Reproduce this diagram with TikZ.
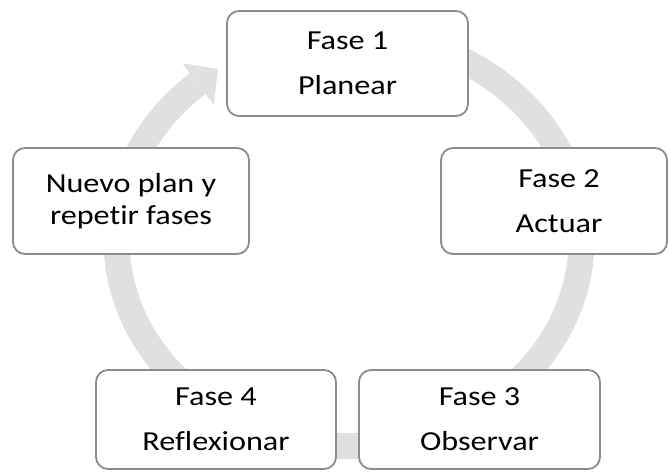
\documentclass[tikz,border=0pt]{standalone}
\usepackage{fontspec}
\setmainfont[Ligatures=NoCommon]{Carlito}
\usepackage{graphicx}
% labels are set slightly wide
\newcommand{\wide}[1]{\scalebox{1.17}[1]{#1}}
\definecolor{ringgray}{RGB}{224,224,224}
\definecolor{edgegray}{RGB}{140,140,140}
\begin{document}
\begin{tikzpicture}[x=1pt,y=-1pt,
  stagebox/.style={draw=edgegray, line width=1.8pt, rounded corners=12pt,
    fill=white, inner sep=0pt, align=center, text=black,
    font=\fontsize{27.5}{45}\selectfont},
  wrapbox/.style={stagebox, font=\fontsize{27.5}{32.5}\selectfont}]
\fill[white] (0,0) rectangle (669,471);
\useasboundingbox (0,0) rectangle (669,471);

% circular arrow running clockwise behind the stages
\draw[ringgray, line width=26pt, line cap=butt]
  plot[domain=-80:229.4, samples=240, variable=\t]
  ({349+232.5*cos(\t)},{240+206*sin(\t)});
\fill[ringgray] (182.3,63.3) -- (218,69) -- (213.7,104.7) -- cycle;

% stages
\node[stagebox, minimum width=241pt, minimum height=105pt] (plan) at (347.5,63.5)
  {\wide{Fase 1}\\\wide{Planear}};
\node[stagebox, minimum width=226pt, minimum height=106pt] (act) at (554,201)
  {\hspace*{10pt}\wide{Fase 2}\\\hspace*{10pt}\wide{Actuar}};
\node[stagebox, minimum width=241pt, minimum height=99pt] (obs) at (479.5,419.5)
  {\wide{Fase 3}\\\wide{Observar}};
\node[stagebox, minimum width=240pt, minimum height=99pt] (refl) at (216,419.5)
  {\wide{Fase 4}\\\wide{Reflexionar}};
\node[wrapbox, minimum width=236pt, minimum height=106pt] (again) at (131,201)
  {\wide{Nuevo plan y}\\\wide{repetir fases}};
\end{tikzpicture}
\end{document}
